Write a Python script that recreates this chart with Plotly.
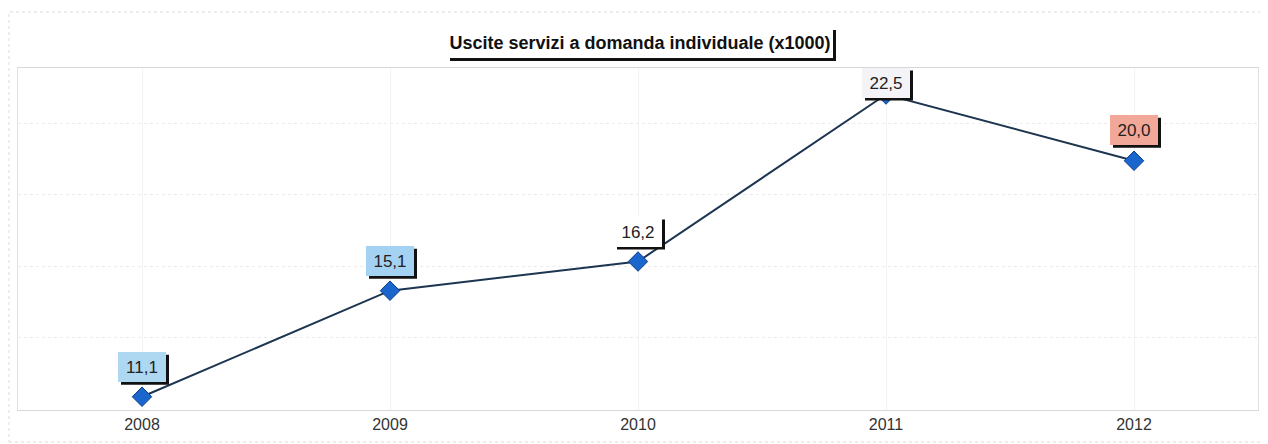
import plotly.graph_objects as go

years = ["2008", "2009", "2010", "2011", "2012"]
values = [11.1, 15.1, 16.2, 22.5, 20.0]
value_labels = ["11,1", "15,1", "16,2", "22,5", "20,0"]
label_colors = ["#aed8f2", "#a4d2f2", "#ffffff", "#f4f4f8", "#f2a898"]
label_shift = [30, 30, 30, 12, 31]

title_text = "Uscite servizi a domanda individuale (x1000)"

W, H = 1260, 436
L, R, T, B = 10, 10, 60, 34
PH = H - T - B
PW = W - L - R

fig = go.Figure()
fig.add_trace(go.Scatter(
    x=years, y=values, mode="lines+markers",
    line=dict(color="#1d3550", width=2),
    marker=dict(symbol="diamond", size=15, color="#1a66cc",
                line=dict(color="#0d3f8a", width=1)),
    hoverinfo="skip", showlegend=False,
))

lab_font = "Liberation Sans, Arial"
BW, BH = 48, 30  # label box outer size in px
for i, (v, t, c, s) in enumerate(zip(values, value_labels, label_colors, label_shift)):
    fig.add_shape(type="rect", xref="x", yref="y", xsizemode="pixel", ysizemode="pixel",
                  xanchor=i, yanchor=v,
                  x0=-BW / 2 + 3, x1=BW / 2 + 3, y0=s - BH / 2 - 3, y1=s + BH / 2 - 3,
                  fillcolor="#111111", line=dict(width=0), layer="above")
    fig.add_annotation(x=i, y=v, xref="x", yref="y", text=t, showarrow=False,
                       yshift=s, bgcolor=c, borderpad=3, borderwidth=0,
                       width=BW - 6, height=BH - 6,
                       font=dict(family=lab_font, size=17, color="#222222"))

tx = (632 - L) / PW
ty = 1 + (T - 34.5) / PH
TW, TH = 386, 31
fig.add_shape(type="rect", xref="paper", yref="paper", xsizemode="pixel", ysizemode="pixel",
              xanchor=tx, yanchor=ty,
              x0=-TW / 2 + 3, x1=TW / 2 + 3, y0=-TH / 2 - 3, y1=TH / 2 - 3,
              fillcolor="#111111", line=dict(width=0), layer="above")
fig.add_annotation(x=tx, y=ty, xref="paper", yref="paper",
                   text="<b>" + title_text + "</b>", showarrow=False,
                   bgcolor="#ffffff", borderpad=3, borderwidth=0,
                   width=TW - 6, height=TH - 6,
                   font=dict(family=lab_font, size=18, color="#111111"),
                   yanchor="middle")

# outer faint dotted frame
fig.add_shape(type="rect", xref="paper", yref="paper",
              x0=-9 / PW, x1=1 + 8 / PW, y0=-(B - 2) / PH, y1=1 + (T - 4) / PH,
              line=dict(color="#dcdcdc", width=1, dash="dot"), layer="below")

fig.update_layout(
    width=W, height=H,
    margin=dict(l=L, r=R, t=T, b=B),
    paper_bgcolor="#ffffff", plot_bgcolor="#ffffff",
    xaxis=dict(type="category", range=[-0.5, 4.5], showgrid=True,
               gridcolor="#f3f3f3", zeroline=False, showline=True,
               linecolor="#d8d8d8", mirror=True,
               tickfont=dict(family=lab_font, size=16, color="#333333"),
               ticks="", ticklen=0),
    yaxis=dict(range=[10.6, 23.5], showticklabels=False, showgrid=True,
               gridcolor="#ebebeb", griddash="dot", dtick=2.7, tick0=10.6 + 0.02,
               zeroline=False, showline=True, linecolor="#e2e2e2", mirror=True),
)

fig.write_html("out.html")
